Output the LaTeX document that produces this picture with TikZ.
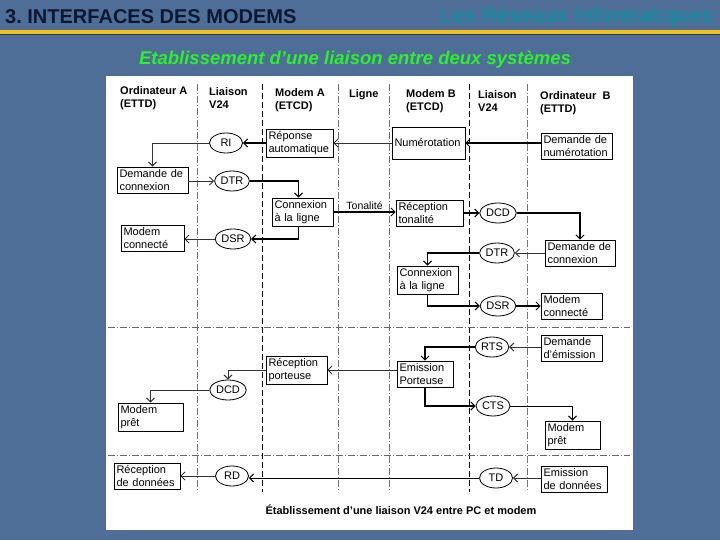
\documentclass[tikz,border=0pt]{standalone}
\usepackage{fontspec}
\setmainfont{Liberation Sans}
\usetikzlibrary{shapes.geometric,arrows.meta}
\definecolor{slidebg}{RGB}{78,110,152}
\definecolor{titlenavy}{RGB}{12,24,50}
\definecolor{teal}{RGB}{22,138,156}
\definecolor{yline}{RGB}{240,192,32}
\definecolor{greentxt}{RGB}{44,240,44}
\tikzset{
  bx/.style={draw, line width=0.6pt, text width=#1, align=left, inner sep=2.5pt,
    font=\fontsize{11}{13}\selectfont},
  sig/.style={ellipse, draw, line width=0.8pt, minimum width=33pt, minimum height=20pt,
    inner sep=1pt, font=\fontsize{11}{12}\selectfont},
  hdr/.style={anchor=west, align=left, inner sep=0pt, font=\bfseries\fontsize{11}{13}\selectfont},
  vthin/.style={draw=black!55, line width=0.5pt, dash pattern=on 7pt off 2pt on 1pt off 2pt},
  vbold/.style={draw=black, line width=1pt, dash pattern=on 6pt off 3pt},
  hsep/.style={draw=black!60, line width=0.6pt, dash pattern=on 7pt off 2pt on 1pt off 2pt},
  thk/.style={line width=1.1pt, -{Straight Barb[length=4pt,width=8pt,line width=1pt]}},
  thn/.style={line width=0.5pt, draw=black!80, -{Straight Barb[length=4pt,width=8pt,line width=1pt]}},
}
\begin{document}
\begin{tikzpicture}[x=1pt,y=-1pt]
\useasboundingbox (0,0) rectangle (720,540);
\fill[slidebg] (0,0) rectangle (720,540);
% title
\node[anchor=west, inner sep=0pt, text=titlenavy, font=\bfseries\fontsize{20}{22}\selectfont] (title) at (5,17) {3.\ INTERFACES DES MODEMS};
\node[anchor=east, inner sep=0pt, text=teal, font=\bfseries\fontsize{21}{23}\selectfont] (subject) at (713,17) {Les Réseaux Informatiques};
\fill[yline] (0,30) rectangle (720,34);
\fill[black!50!slidebg] (0,34) rectangle (720,35);
\node[text=greentxt, inner sep=0pt, font=\bfseries\itshape\fontsize{18.5}{21}\selectfont] (subtitle) at (355,60) {Etablissement d'une liaison entre deux systèmes};
% panel
\fill[white] (106,76) rectangle (633,530);
% headers
\node[hdr] (hOA) at (120,98) {Ordinateur A\\(ETTD)};
\node[hdr] (hLA) at (209,98) {Liaison\\V24};
\node[hdr] (hMA) at (275,100) {Modem A\\(ETCD)};
\node[hdr] (hLg) at (349,95) {Ligne};
\node[hdr] (hMB) at (406,101) {Modem B\\(ETCD)};
\node[hdr] (hLB) at (478,101) {Liaison\\V24};
\node[hdr] (hOB) at (540,103) {Ordinateur\ \ B\\(ETTD)};
% column separators
\draw[vthin] (197,84) -- (197,492);
\draw[vbold] (262,84) -- (262,492);
\draw[vthin] (338,84) -- (338,492);
\draw[vthin] (389,84) -- (389,492);
\draw[vbold] (469,84) -- (469,492);
\draw[vthin] (527,84) -- (527,492);
% row separators
\draw[hsep] (108,327) -- (630,327);
\draw[hsep] (108,455) -- (630,455);
% boxes
\node[bx=62] (rep) at (299.5,143) {Réponse\\automatique};
\node[bx=68, minimum height=32pt] (num) at (428.5,143) {Numérotation};
\node[bx=66] (dnum) at (576.5,146) {Demande de\\numérotation};
\node[bx=66] (dconA) at (152.5,180) {Demande de\\connexion};
\node[bx=56] (cxA) at (302.5,212) {Connexion\\à la ligne};
\node[bx=58] (mcA) at (152.5,238) {Modem\\connecté};
\node[bx=62] (rtona) at (429.5,213) {Réception\\tonalité};
\node[bx=65] (dconB) at (580,253) {Demande de\\connexion};
\node[bx=56] (cxB) at (427.5,280) {Connexion\\à la ligne};
\node[bx=56] (mcB) at (571.5,306) {Modem\\connecté};
\node[bx=56] (demis) at (571.5,348) {Demande\\d'émission};
\node[bx=51] (emis) at (425,374) {Emission\\Porteuse};
\node[bx=56] (rport) at (296.5,370) {Réception\\porteuse};
\node[bx=60] (mpA) at (150.5,417) {Modem\\prêt};
\node[bx=50] (mpB) at (572.5,435) {Modem\\prêt};
\node[bx=61] (rdon) at (147,476) {Réception\\de données};
\node[bx=61] (edon) at (574,479) {Emission\\de données};
% signals
\node[sig] (RI) at (226,143) {RI};
\node[sig] (DTRA) at (232,181) {DTR};
\node[sig] (DSRA) at (233,239) {DSR};
\node[sig] (DCDB) at (498,213) {DCD};
\node[sig] (DTRB) at (497,253) {DTR};
\node[sig] (DSRB) at (498,306) {DSR};
\node[sig] (RTS) at (492,347) {RTS};
\node[sig] (DCDA) at (228,390) {DCD};
\node[sig] (CTS) at (493,406) {CTS};
\node[sig] (RD) at (232,476) {RD};
\node[sig] (TD) at (496,478) {TD};
% connectors
\draw[thn] (num.west) -- (rep.east);
\draw[thk] (dnum.west |- num.east) -- (num.east);
\draw[thk] (rep.west) -- (RI.east);
\draw[thn] (RI.west) -| (dconA.north);
\draw[thn] (dconA.east |- DTRA.west) -- (DTRA.west);
\draw[thk] (DTRA.east) -| ([xshift=-4pt]cxA.north);
\draw[thk] (cxA.east) -- node[above, inner sep=2pt, font=\fontsize{10.5}{12}\selectfont] (ton) {Tonalité} (rtona.west |- cxA.east);
\draw[thk] ([xshift=-4pt]cxA.south) |- (DSRA.east);
\draw[thn] (DSRA.west) -- (mcA.east |- DSRA.west);
\draw[thk] (rtona.east |- DCDB.west) -- (DCDB.west);
\draw[thk] (DCDB.east) -| (dconB.north);
\draw[thn] (dconB.west) -- (DTRB.east);
\draw[thk] (DTRB.west) -| (cxB.north);
\draw[thk] (cxB.south) |- (DSRB.west);
\draw[thk] (DSRB.east) -- (mcB.west);
\draw[thn] (demis.west |- RTS.east) -- (RTS.east);
\draw[thk] (RTS.west) -| (emis.north);
\draw[thn] (emis.west |- rport.east) -- (rport.east);
\draw[thn, line width=0.8pt] (rport.west) -| (DCDA.north);
\draw[thn] (DCDA.west) -| (mpA.north);
\draw[thk] (emis.south) |- (CTS.west);
\draw[thk, line width=0.8pt] (CTS.east) -| (mpB.north);
\draw[thn] (edon.west |- TD.east) -- (TD.east);
\draw[thk, line width=0.9pt] (TD.west) -- (RD.east |- TD.west);
\draw[thn] (RD.west) -- (rdon.east |- RD.west);
% caption
\node[inner sep=0pt, font=\bfseries\fontsize{11}{13}\selectfont] (cap) at (401,510) {Établissement d'une liaison V24 entre PC et modem};
\end{tikzpicture}
\end{document}
